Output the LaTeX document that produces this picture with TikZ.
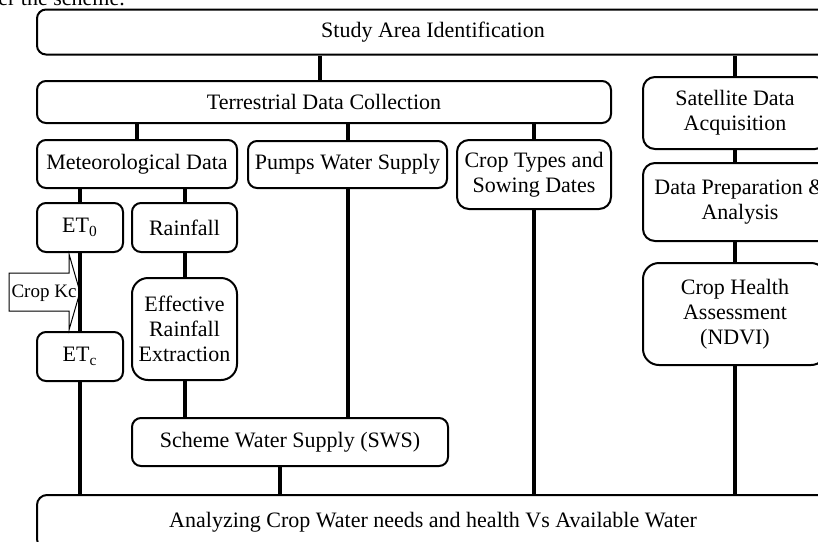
\documentclass[tikz,border=0pt]{standalone}
\usepackage{fontspec}
\setmainfont{Liberation Serif}
\usepackage{tikz}
\usetikzlibrary{calc}

\begin{document}
\begin{tikzpicture}[
  x=0.5pt, y=-0.5pt,
  box/.style={draw, line width=1pt, rounded corners=4.5pt, align=center, inner sep=1pt, font=\fontsize{11}{12.5}\selectfont},
  roundbox/.style={box, rounded corners=6pt},
  bigbox/.style={box, rounded corners=8pt},
  link/.style={line width=2pt},
  kcarrow/.style={draw, line width=0.5pt, fill=white},
]
  \useasboundingbox (0,0) rectangle (818,541);
  \clip (0,0) rectangle (818,541);

  % cut line of the page above
  \node[anchor=base west, inner sep=0pt, font=\fontsize{11}{13}\selectfont] (prevline) at (-2,5) {er the scheme.};

  % top rows
  \node[box, minimum width=396pt, minimum height=22.5pt] (study) at (433,32) {Study Area Identification};
  \node[box, minimum width=287pt, minimum height=21pt] (terr) at (324,102) {Terrestrial Data Collection};
  \node[roundbox, minimum width=92pt, minimum height=36pt] (sat) at (735,113) {Satellite Data\\Acquisition};

  % terrestrial branches
  \node[box, minimum width=100pt, minimum height=24pt] (met) at (137,164) {Meteorological Data};
  \node[box, minimum width=99.5pt, minimum height=23.5pt] (pumps) at (347.5,164.5) {Pumps Water Supply};
  \node[roundbox, minimum width=77pt, minimum height=34.5pt] (types) at (534,174.5) {Crop Types and\\Sowing Dates};

  % meteorological data
  \node[box, minimum width=43pt, minimum height=24.5pt] (et0) at (80,227.5) {ET\textsubscript{0}};
  \node[box, minimum width=52.5pt, minimum height=24.5pt] (rain) at (184.5,227.5) {Rainfall};
  \node[bigbox, minimum width=52.5pt, minimum height=51pt] (eff) at (184.5,329) {Effective\\Rainfall\\Extraction};
  \node[box, minimum width=43pt, minimum height=24.5pt] (etc) at (80,356.5) {ET\textsubscript{c}};
  \node[box, minimum width=158pt, minimum height=24pt] (sws) at (290,442) {Scheme Water Supply (SWS)};

  % satellite side
  \node[roundbox, minimum width=97pt, minimum height=39pt] (prep) at (740,202) {Data Preparation \&\\Analysis};
  \node[bigbox, minimum width=92pt, minimum height=51pt] (health) at (735,314) {Crop Health\\Assessment\\(NDVI)};

  % result
  \node[box, rounded corners=5pt, minimum width=396pt, minimum height=27pt] (result) at (433,522) {Analyzing Crop Water needs and health Vs Available Water};

  % Crop Kc arrow
  \coordinate (kctip) at ($(et0.south)!0.5!(etc.north)$);
  \draw[kcarrow] (kctip) -- ++(-11,-38) -- ++(0,19) -- ++(-60,0) -- ++(0,38) -- ++(60,0) -- ++(0,19) -- cycle;
  \node[inner sep=0pt, font=\fontsize{9.5}{11}\selectfont] (kc) at ($(kctip)+(-36,1)$) {Crop Kc};

  % connectors
  \draw[link] ([xshift=-2pt]terr.north) -- ([xshift=-2pt]terr.north |- study.south);
  \draw[link] (sat.north) -- (sat.north |- study.south);
  \draw[link] (met.north) -- (met.north |- terr.south);
  \draw[link] (pumps.north) -- (pumps.north |- terr.south);
  \draw[link] (types.north) -- (types.north |- terr.south);
  \draw[link] (et0.north) -- (et0.north |- met.south);
  \draw[link] (rain.north) -- (rain.north |- met.south);
  \draw[link] (et0.south) -- (etc.north);
  \draw[link] (rain.south) -- (eff.north);
  \draw[link] (eff.south) -- (eff.south |- sws.north);
  \draw[link] (pumps.south) -- (pumps.south |- sws.north);
  \draw[link] (etc.south) -- (etc.south |- result.north);
  \draw[link] ([xshift=-5pt]sws.south) -- ([xshift=-5pt]sws.south |- result.north);
  \draw[link] (types.south) -- (types.south |- result.north);
  \draw[link] (sat.south) -- (sat.south |- prep.north);
  \draw[link] (prep.south -| health.north) -- (health.north);
  \draw[link] (health.south) -- (health.south |- result.north);
\end{tikzpicture}
\end{document}
